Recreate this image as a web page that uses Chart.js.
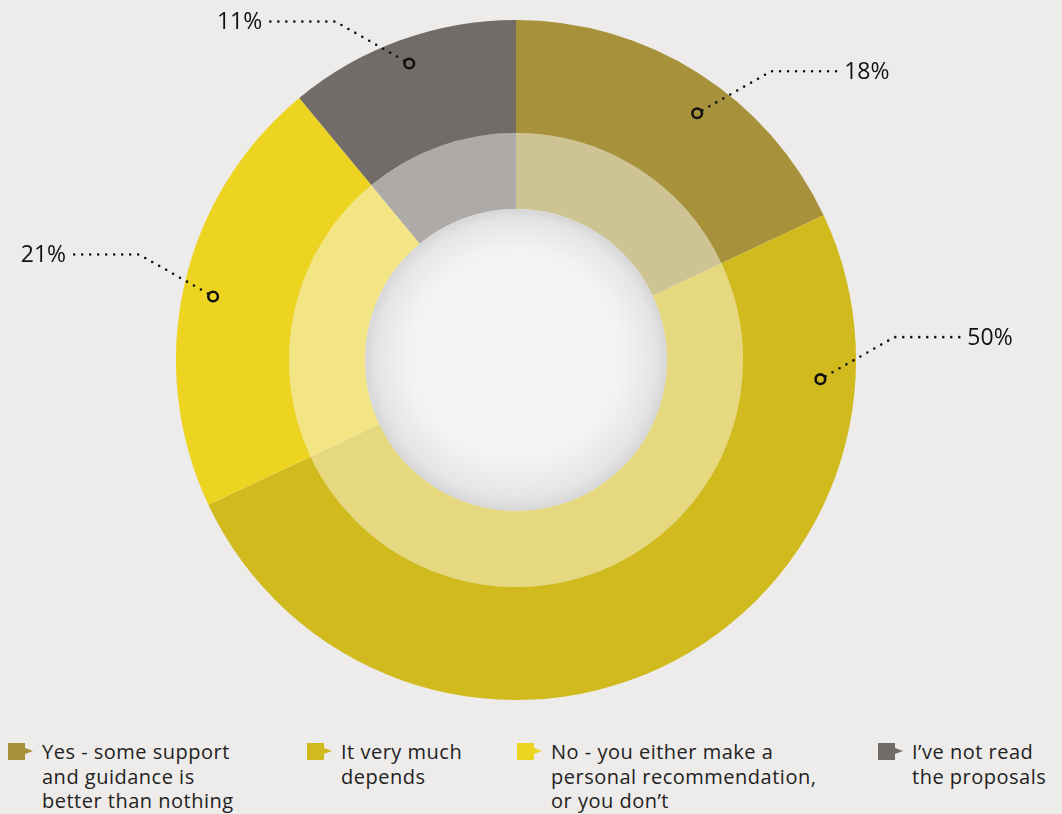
<!DOCTYPE html>
<html lang="en">
<head>
<meta charset="UTF-8" />
<title>Guidance survey</title>
<script src="https://cdn.jsdelivr.net/npm/chart.js"></script>
<style>
  html, body { margin: 0; padding: 0; }
  body {
    width: 1062px; height: 814px; overflow: hidden;
    background: #edecea; position: relative;
    font-family: "Open Sans", "Noto Sans", sans-serif; color: #222;
  }
  #chart { position: absolute; left: 0; top: 0; }
  .legend-item { position: absolute; top: 740px; display: flex; }
  .legend-item .icon { position: relative; width: 17px; height: 17px; margin-top: 3px; flex: none; }
  .legend-item .icon::after {
    content: ""; position: absolute; left: 17px; top: 5px;
    border-top: 3.5px solid transparent; border-bottom: 3.5px solid transparent;
    border-left: 8px solid currentColor;
  }
  .legend-item .text {
    margin-left: 17px; font-size: 20px; line-height: 24.5px;
    letter-spacing: 0.5px; font-weight: 400; color: #222;
  }
</style>
</head>
<body>
<div class="wrap">
  <canvas id="chart" width="1062" height="720"></canvas>
  <div id="legend"></div>
</div>
<script>
const categories = [
  'Yes - some support and guidance is better than nothing',
  'It very much depends',
  'No - you either make a personal recommendation, or you don\u2019t',
  'I\u2019ve not read the proposals'
];
const shares = [18, 50, 21, 11];

const outerColors = ['#a8913b', '#d1ba1d', '#ecd420', '#716c68'];
const innerColors = ['#cdc393', '#e5d87e', '#f4e584', '#aeaaa7'];

// where each callout sits inside its slice, and which way it leans
const callouts = [
  { frac: 0.56, depth: 0.70, side: 1 },
  { frac: 0.16, depth: 0.69, side: 1 },
  { frac: 0.49, depth: 0.73, side: -1 },
  { frac: 0.50, depth: 0.78, side: -1 }
];

const legendLayout = [
  { left: 8, width: 215 },
  { left: 307, width: 140 },
  { left: 517, width: 292 },
  { left: 878, width: 150 }
];

const centerDisc = {
  id: 'centerDisc',
  afterDatasetsDraw(chart) {
    const arc = chart.getDatasetMeta(1).data[0];
    const { ctx } = chart;
    const r = arc.innerRadius;
    const g = ctx.createRadialGradient(arc.x, arc.y - r * 0.1, 0, arc.x, arc.y, r);
    g.addColorStop(0, '#f5f5f5');
    g.addColorStop(0.7, '#f3f3f3');
    g.addColorStop(0.92, '#e5e5e5');
    g.addColorStop(1, '#d6d6d6');
    ctx.save();
    ctx.beginPath();
    ctx.arc(arc.x, arc.y, r, 0, Math.PI * 2);
    ctx.fillStyle = g;
    ctx.fill();
    ctx.restore();
  }
};

const calloutLines = {
  id: 'calloutLines',
  afterDraw(chart) {
    const { ctx } = chart;
    const arcs = chart.getDatasetMeta(0).data;
    const lean = Math.atan2(42, 74);
    ctx.save();
    arcs.forEach((arc, i) => {
      const c = callouts[i];
      const a = arc.startAngle + c.frac * (arc.endAngle - arc.startAngle);
      const r = arc.innerRadius + c.depth * (arc.outerRadius - arc.innerRadius);
      const mx = arc.x + Math.cos(a) * r;
      const my = arc.y + Math.sin(a) * r;
      const ex = mx + c.side * 74;
      const ey = my - 42;
      const hx = ex + c.side * 65;

      // dotted leader
      ctx.beginPath();
      ctx.moveTo(mx + c.side * 6 * Math.cos(lean), my - 6 * Math.sin(lean));
      ctx.lineTo(ex, ey);
      ctx.lineTo(hx, ey);
      ctx.setLineDash([0, 8]);
      ctx.lineCap = 'round';
      ctx.lineWidth = 2.6;
      ctx.strokeStyle = '#111';
      ctx.stroke();
      ctx.setLineDash([]);

      // ring marker
      ctx.beginPath();
      ctx.arc(mx, my, 4.8, 0, Math.PI * 2);
      ctx.lineWidth = 2.6;
      ctx.stroke();

      ctx.font = '400 23px "Open Sans", "Noto Sans", sans-serif';
      ctx.fillStyle = '#111';
      ctx.textBaseline = 'middle';
      ctx.textAlign = c.side > 0 ? 'left' : 'right';
      ctx.fillText(shares[i] + '%', hx + c.side * 8, ey + 1);
    });
    ctx.restore();
  }
};

new Chart(document.getElementById('chart'), {
  type: 'doughnut',
  data: {
    labels: categories,
    datasets: [
      { data: shares, backgroundColor: outerColors, borderWidth: 0, weight: 113 },
      { data: shares, backgroundColor: innerColors, borderWidth: 0, weight: 76 }
    ]
  },
  options: {
    responsive: false,
    animation: false,
    cutout: 151,
    layout: { padding: { left: 176, right: 206, top: 20, bottom: 20 } },
    plugins: {
      legend: { display: false },
      tooltip: { enabled: false }
    }
  },
  plugins: [centerDisc, calloutLines]
});

// legend below the chart
const legend = document.getElementById('legend');
categories.forEach((name, i) => {
  const item = document.createElement('div');
  item.className = 'legend-item';
  item.style.left = legendLayout[i].left + 'px';
  const icon = document.createElement('div');
  icon.className = 'icon';
  icon.style.background = outerColors[i];
  icon.style.color = outerColors[i];
  const text = document.createElement('div');
  text.className = 'text';
  text.style.width = legendLayout[i].width + 'px';
  text.textContent = name;
  item.appendChild(icon);
  item.appendChild(text);
  legend.appendChild(item);
});
</script>
</body>
</html>
